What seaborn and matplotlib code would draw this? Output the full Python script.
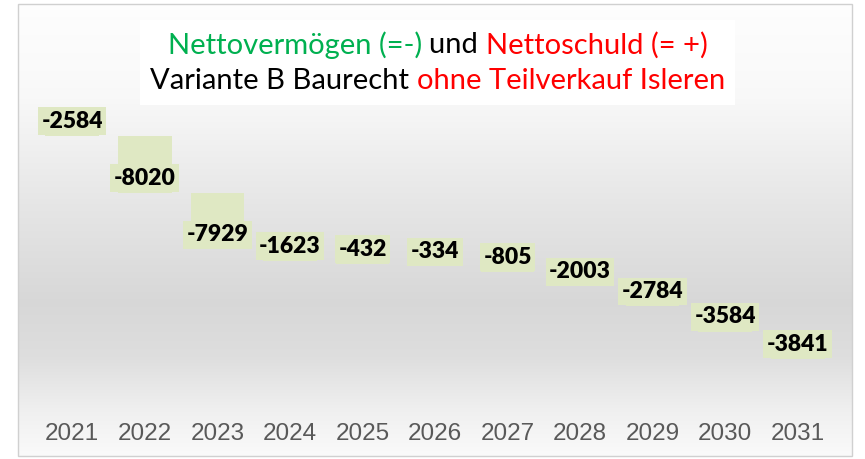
import numpy as np
import pandas as pd
import matplotlib
matplotlib.use("Agg")
import matplotlib.pyplot as plt
import seaborn as sns
from matplotlib.patches import Rectangle

# ---- data ----
years = ["2021", "2022", "2023", "2024", "2025", "2026", "2027", "2028", "2029", "2030", "2031"]
changes = [-2584, -8020, -7929, -1623, -432, -334, -805, -2003, -2784, -3584, -3841]

title_line1 = [("Nettovermögen (=-) ", "#00b050"), ("und ", "#000000"), ("Nettoschuld (= +)", "#ff0000")]
title_line2 = [("Variante B Baurecht ", "#000000"), ("ohne Teilverkauf Isleren", "#ff0000")]

ends = np.cumsum(changes)
starts = ends - np.array(changes)
df = pd.DataFrame({"year": years, "change": changes, "start": starts, "end": ends})

sns.set_theme(style="white")
plt.rcParams["font.family"] = ["Lato", "DejaVu Sans"]

W, H = 865, 459
fig = plt.figure(figsize=(W / 100, H / 100), dpi=100)
fig.patch.set_facecolor("white")

def fx(px):
    return px / W

def fy(py):
    return 1 - py / H

# background panel with vertical gradient
pl, pr, pt, pb = 18, 852, 4, 456
bg = fig.add_axes([fx(pl), fy(pb), fx(pr - pl), (pb - pt) / H])
yy = np.linspace(0, 1, 400)
stops_y = [0.0, 0.2, 0.45, 0.66, 0.78, 0.9, 1.0]
stops_v = [0.995, 0.975, 0.90, 0.845, 0.87, 0.94, 0.98]
col = np.interp(yy, stops_y, stops_v)
img = np.repeat(col[:, None], 4, axis=1)
bg.imshow(np.dstack([img, img, img]), aspect="auto", extent=[0, 1, 0, 1], origin="upper")
bg.set_xlim(0, 1)
bg.set_ylim(0, 1)
bg.axis("off")
fig.patches.append(Rectangle((fx(pl), fy(pb)), fx(pr - pl), (pb - pt) / H,
                             transform=fig.transFigure, fill=False,
                             edgecolor="#d0d0d0", linewidth=1.0, zorder=5))

# main axes
ax_top, ax_bot = 110, 415
ax = fig.add_axes([fx(36), fy(ax_bot), fx(834 - 36), (ax_bot - ax_top) / H])
ax.patch.set_alpha(0)

bar_color = "#dfe8c3"
sns.barplot(data=df, x="year", y="change", bottom=df["start"].values, color=bar_color,
            width=0.74, ax=ax, edgecolor="none", linewidth=0, saturation=1)

ax.set_xlim(-0.5, len(years) - 0.5)
ax.set_ylim(-41828, 1069)
ax.set_xlabel("")
ax.set_ylabel("")
ax.set_yticks([])
for s in ax.spines.values():
    s.set_visible(False)
ax.tick_params(axis="x", length=0, pad=6)
for lab in ax.get_xticklabels():
    lab.set_fontfamily("Liberation Sans")
    lab.set_fontsize(17.5)
    lab.set_color("#595959")

for i, (e, c) in enumerate(zip(ends, changes)):
    ax.annotate(f"{c}", xy=(i, e), xytext=(0, 3), textcoords="offset points",
                ha="center", va="bottom", fontsize=16.5, fontweight="heavy",
                color="#000000",
                bbox=dict(boxstyle="square,pad=0.15", fc=bar_color, ec="none"))

# title box
fig.patches.append(Rectangle((fx(140), fy(105)), fx(735 - 140), (105 - 20) / H,
                             transform=fig.transFigure, facecolor="white",
                             edgecolor="none", zorder=2))

def draw_multicolor(segments, cx, cy, size):
    fig.canvas.draw()
    r = fig.canvas.get_renderer()
    texts = []
    widths = []
    for s, c in segments:
        t = fig.text(0, fy(cy), s, color=c, fontsize=size, va="center", ha="left", zorder=6)
        bb = t.get_window_extent(renderer=r)
        texts.append(t)
        widths.append(bb.width)
    total = sum(widths)
    x = cx - total / 2
    for t, w in zip(texts, widths):
        t.set_x(fx(x))
        x += w

draw_multicolor(title_line1, 437.5, 45, 21)
draw_multicolor(title_line2, 437.5, 81, 21)

fig.savefig("out.png", dpi=100)
